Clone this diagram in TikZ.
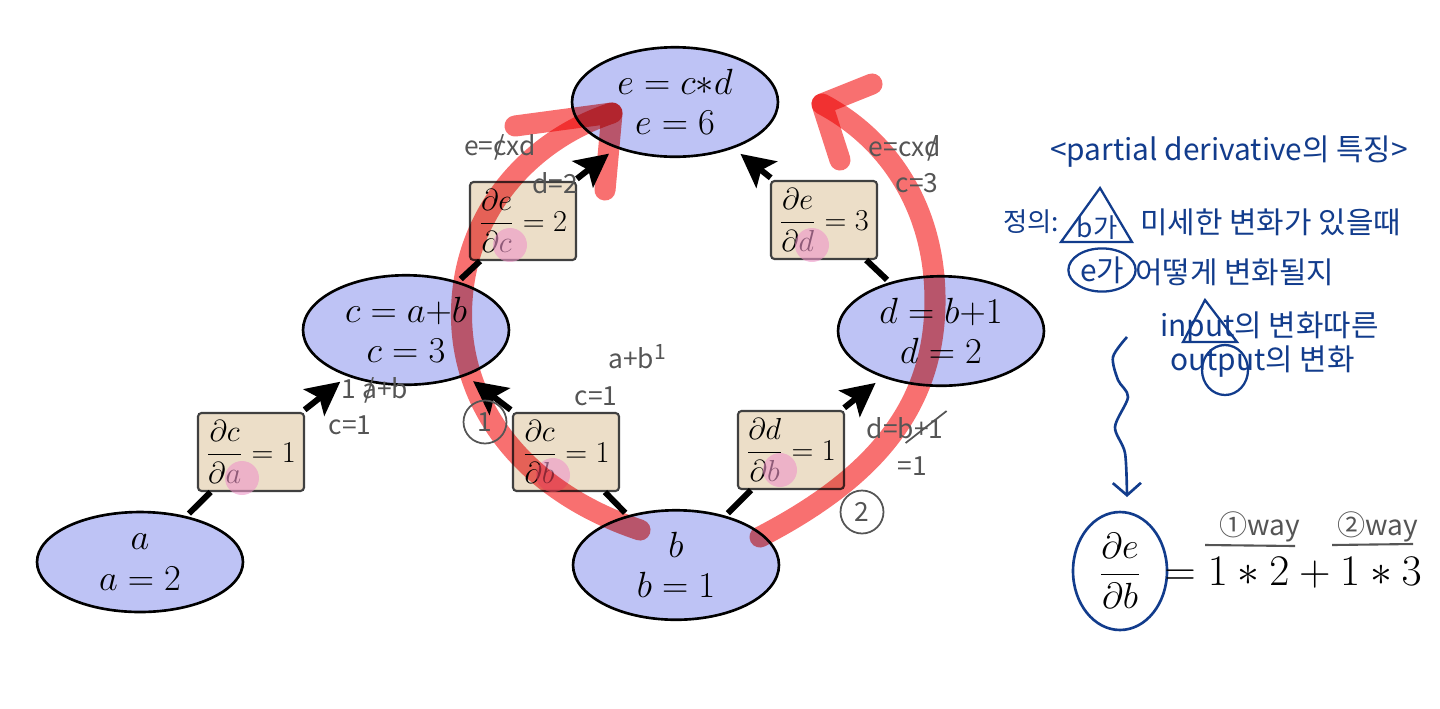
\documentclass[tikz,border=0pt]{standalone}
\usepackage{amsmath}
\usepackage{fontspec}
\newfontfamily\hand{Noto Sans CJK KR}
\usetikzlibrary{shapes,arrows.meta,positioning,calc}
\definecolor{varfill}{RGB}{190,195,245}
\definecolor{gradfill}{RGB}{236,222,200}
\definecolor{pencil}{RGB}{85,85,85}
\definecolor{ink}{RGB}{18,60,140}
\definecolor{marker}{RGB}{248,112,112}
\definecolor{highlight}{RGB}{238,150,200}
\newcommand{\strk}[1]{\ooalign{#1\cr\hidewidth/\hidewidth}}

\begin{document}
\begin{tikzpicture}[x=0.02cm, y=-0.02cm,
    var/.style={ellipse, draw, line width=1.5pt, fill=varfill, minimum width=4.12cm, minimum height=2cm, align=center, font=\fontsize{21}{23}\selectfont},
    grad/.style={rectangle, draw=black!75, line width=1.2pt, rounded corners=2pt, fill=gradfill, minimum width=2.12cm, minimum height=1.56cm, inner sep=1pt, font=\fontsize{19}{22}\selectfont},
    edge/.style={line width=3.4pt, shorten <=2pt},
    arr/.style={edge, -{Stealth[length=19pt,width=19pt,inset=4pt]}, shorten >=5pt},
    note/.style={text=pencil, font=\hand\fontsize{15}{17}\selectfont, inner sep=0pt},
    memo/.style={text=ink, font=\hand\fontsize{17}{20}\selectfont, inner sep=0pt},
    dot/.style={circle, fill=highlight, opacity=0.6, minimum size=0.68cm, inner sep=0pt},
    stroke/.style={line width=12pt, draw=marker, line cap=round, line join=round},
    ring/.style={circle, draw=pencil, line width=1pt, minimum size=0.86cm, inner sep=0pt},
]
\useasboundingbox (0,0) rectangle (1440,708);
% Variables
\node[var] (e) at (675,102) {$e = c{*}d$\\$e = 6$};
\node[var] (c) at (406,330) {$c = a{+}b$\\$c = 3$};
\node[var] (d) at (941,331) {$d = b{+}1$\\$d = 2$};
\node[var] (a) at (140,562) {$a$\\$a = 2$};
\node[var] (b) at (676,565) {$b$\\$b = 1$};
% Local derivatives
\node[grad] (dcda) at (251,452) {$\dfrac{\partial c}{\partial a} = 1$};
\node[grad] (dcdb) at (566,452) {$\dfrac{\partial c}{\partial b} = 1$};
\node[grad] (dddb) at (791,450) {$\dfrac{\partial d}{\partial b} = 1$};
\node[grad] (dedc) at (523,221) {$\dfrac{\partial e}{\partial c} = 2$};
\node[grad] (dedd) at (824,220) {$\dfrac{\partial e}{\partial d} = 3$};
% Connections
\draw[edge] (a) -- (dcda);
\draw[arr] (dcda) -- (c);
\draw[edge] (b) -- (dcdb);
\draw[arr] (dcdb) -- (c);
\draw[edge] (b) -- (dddb);
\draw[arr] (dddb) -- (d);
\draw[edge] (c) -- (dedc);
\draw[arr] (dedc) -- (e);
\draw[edge] (d) -- (dedd);
\draw[arr] (dedd) -- (e);
% Highlighter dots
\node[dot] (hla) at (242,478) {};
\node[dot] (hlb) at (553,475) {};
\node[dot] (hlc) at (780,470) {};
\node[dot] (hld) at (510,245) {};
\node[dot] (hle) at (812,245) {};
% Red marker paths
\coordinate (lstart) at (640,530);
\coordinate (ltip) at (612,113);
\coordinate (rstart) at (760,537);
\coordinate (rtip) at (822,104);
\begin{scope}[blend mode=multiply]
\draw[stroke] (lstart) .. controls (520,490) and (455,400) .. (462,300)
    .. controls (468,210) and (530,140) .. (ltip);
\draw[stroke] (515,126) -- (ltip) -- (605,190);
\draw[stroke] (rstart) .. controls (870,480) and (935,410) .. (935,300)
    .. controls (935,210) and (890,140) .. (rtip);
\draw[stroke] (872,84) -- (rtip) -- (840,160);
\end{scope}
% Pencil notes
\node[note] (ecd1) at (500,147) {e=\strk{c}xd};
\node[note] (d2) at (555,183) {d=2};
\node[note] (ecd2) at (905,148) {e=cx\strk{d}};
\node[note] (c3) at (917,183) {c=3};
\node[note] (ab1) at (375,390) {1 \strk{a}+b};
\node[note] (c1a) at (350,425) {c=1};
\node[note] (ab2) at (637,357) {a+b\raisebox{5pt}{\fontsize{12}{12}\selectfont 1}};
\node[note] (c1b) at (596,396) {c=1};
\node[note, ring] (one) at (485,422) {1};
\node[note] (db1) at (905,428) {d=b+1};
\draw[pencil, line width=1pt] ($(db1.south east)+(-38,4)$) -- ($(db1.north east)+(3,-6)$);
\node[note] (eq1) at (912,466) {=1};
\node[note, ring] (two) at (862,512) {2};
% Ink notes
\node[memo] (title) at (1229,152) {<partial derivative의 특징>};
\node[memo, anchor=west, font=\hand\fontsize{15}{18}\selectfont] (defn) at (1003,222) {정의:};
\node[memo, font=\hand\fontsize{15}{18}\selectfont] (bga) at (1097,228) {b가};
\draw[ink, line width=1.3pt] (1061,242) -- (1100,188) -- (1132,242) -- cycle;
\node[memo, anchor=west] (line1) at (1140,222) {미세한 변화가 있을때};
\node[memo, ellipse, draw=ink, line width=1.3pt, inner sep=1pt] (ega) at (1102,270) {e가};
\node[memo, anchor=west] (line2) at (1135,272) {어떻게 변화될지};
\node[memo, anchor=west] (line3) at (1160,328) {input의 변화따른};
\draw[ink, line width=1.3pt] (1183,342) -- (1205,300) -- (1237,342) -- cycle;
\node[memo, anchor=west] (line4) at (1170,362) {output의 변화};
\draw[ink, line width=1.3pt] (1225,370) ellipse (23 and 25);
\draw[ink, line width=1.5pt, -{Straight Barb[length=7pt,width=16pt]}]
    plot[smooth] coordinates {(1127,337) (1113,357) (1118,380) (1128,397) (1115,427) (1125,453) (1127,497)};
% Result
\node[ellipse, draw=ink, line width=1.5pt, minimum width=1.88cm, minimum height=2.36cm, inner sep=0pt,
    font=\fontsize{20}{24}\selectfont] (dedb) at (1120,571) {$\dfrac{\partial e}{\partial b}$};
\node[anchor=west, inner sep=0pt, font=\fontsize{24}{28}\selectfont] (sum) at (1164,573) {${=}\;1*2+1*3$};
\node[note, font=\hand\fontsize{16}{18}\selectfont] (way1) at (1260,527) {①way};
\node[note, font=\hand\fontsize{16}{18}\selectfont] (way2) at (1378,527) {②way};
\draw[pencil, line width=1.2pt] (1205,545) -- (1295,546);
\draw[pencil, line width=1.2pt] (1332,545) -- (1413,544);
\end{tikzpicture}
\end{document}
